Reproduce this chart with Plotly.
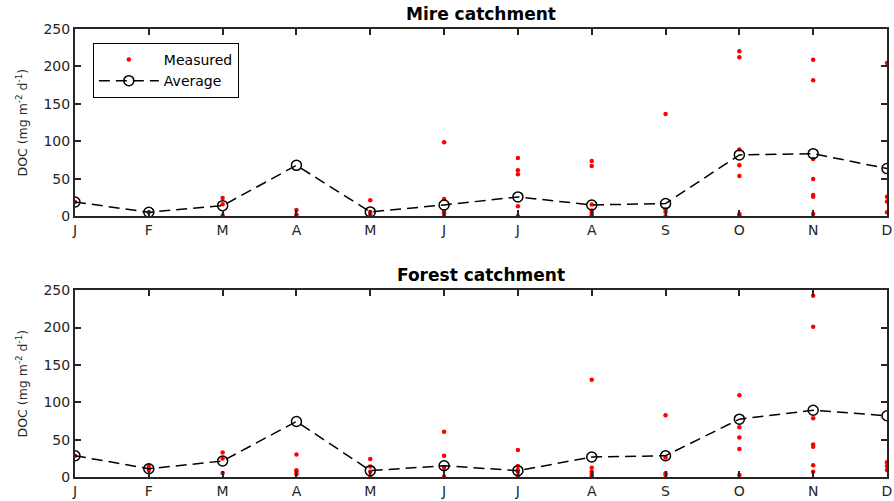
import plotly.graph_objects as go

months = ["J", "F", "M", "A", "M", "J", "J", "A", "S", "O", "N", "D"]
month_pos = list(range(1, 13))

# Mire catchment
mire_avg = [19.1, 5.3, 14.2, 68.0, 5.8, 15.1, 25.8, 15.1, 16.9, 81.9, 83.6, 63.6]
mire_meas = [
    [19],
    [5],
    [24.5, 16, 0.9],
    [8.5, 2.2, 0],
    [21.4, 5.8, 3.1, 0],
    [98.8, 23.1, 6.2, 4, 0],
    [77.8, 61.4, 56, 13.3, 0],
    [73.8, 67.2, 15.6, 7.6, 4.4, 1.8, 0],
    [136.6, 8.9, 5.8, 0],
    [220.2, 212.2, 89, 68, 53.8, 3.1, 0.9],
    [209, 181.5, 76.5, 49.8, 28.5, 26.2, 3.1],
    [204.6, 26.2, 19.6, 5.3],
]

# Forest catchment
forest_avg = [28.5, 11.1, 21.4, 74.3, 8.5, 15.1, 8.5, 26.7, 28.5, 77.4, 89.4, 81.9]
forest_meas = [
    [28.5],
    [14.7, 9.3],
    [32.9, 24.9, 5.3],
    [30.2, 8.9, 6.7, 3.6],
    [24, 14.2, 7.1, 0],
    [60.5, 28.5, 12, 0.5],
    [36, 14.7, 9.3, 7.1, 1.3],
    [130.3, 12.5, 7.1, 4, 1.3],
    [82.7, 26.2, 4.9, 2.7],
    [109.4, 66.7, 52.9, 37.4, 2.7],
    [242.4, 201, 78.7, 43.6, 40.5, 15.6, 7.1],
    [19.6, 14.7, 9.3],
]

titles = ["Mire catchment", "Forest catchment"]
y_ticks = [0, 50, 100, 150, 200, 250]


def flatten(meas):
    xs, ys = [], []
    for m, vals in zip(month_pos, meas):
        for v in vals:
            xs.append(m)
            ys.append(v)
    return xs, ys


fig = go.Figure()
AX = "#262626"

for i, (avg, meas) in enumerate([(mire_avg, mire_meas), (forest_avg, forest_meas)]):
    xa = "x" if i == 0 else "x2"
    ya = "y" if i == 0 else "y2"
    mx, my = flatten(meas)
    fig.add_trace(go.Scatter(
        x=mx, y=my, mode="markers", name="Measured",
        marker=dict(color="#ff0000", size=4.5, line=dict(width=0)),
        xaxis=xa, yaxis=ya, showlegend=(i == 0),
    ))
    fig.add_trace(go.Scatter(
        x=month_pos, y=avg, mode="lines+markers", name="Average",
        line=dict(color="black", width=1.5, dash="11px,6px"),
        marker=dict(symbol="circle-open", size=10, color="black", line=dict(width=1.5)),
        xaxis=xa, yaxis=ya, showlegend=(i == 0),
    ))

axis_common = dict(
    showline=True, linecolor=AX, linewidth=2, mirror="ticks",
    ticks="inside", ticklen=6, tickwidth=1.5, tickcolor=AX,
    showgrid=False, zeroline=False,
    tickfont=dict(family="DejaVu Sans", size=14, color=AX),
)

ytitle = "DOC (mg m<sup>-2</sup> d<sup>-1</sup>)"
ytitle_font = dict(family="DejaVu Sans", size=12.5, color=AX)

fig.update_layout(
    width=894, height=501,
    margin=dict(l=75, r=2, t=29, b=23),
    paper_bgcolor="white", plot_bgcolor="white",
    showlegend=True,
    legend=dict(
        x=0.022, y=0.969, xanchor="left", yanchor="top",
        bordercolor="black", borderwidth=1, bgcolor="white",
        font=dict(family="DejaVu Sans", size=14, color="black"),
        tracegroupgap=0, itemwidth=60,
    ),
    xaxis=dict(domain=[0, 1], range=[1, 12], tickvals=month_pos, ticktext=months,
               anchor="y", ticklabeloverflow="allow", **axis_common),
    yaxis=dict(domain=[0.582, 1.0], range=[0, 250], tickvals=y_ticks, anchor="x",
               title=dict(text=ytitle, font=ytitle_font, standoff=13),
               **axis_common),
    xaxis2=dict(domain=[0, 1], range=[1, 12], tickvals=month_pos, ticktext=months,
                anchor="y2", ticklabeloverflow="allow", **axis_common),
    yaxis2=dict(domain=[0.0, 0.417], range=[0, 250], tickvals=y_ticks, anchor="x2",
                title=dict(text=ytitle, font=ytitle_font, standoff=13),
                **axis_common),
    annotations=[
        dict(text="<b>" + titles[0] + "</b>", x=0.5, y=1.0, xref="paper", yref="paper",
             xanchor="center", yanchor="bottom", yshift=3, showarrow=False,
             font=dict(family="DejaVu Sans", size=17, color="black")),
        dict(text="<b>" + titles[1] + "</b>", x=0.5, y=0.417, xref="paper", yref="paper",
             xanchor="center", yanchor="bottom", yshift=3, showarrow=False,
             font=dict(family="DejaVu Sans", size=17, color="black")),
    ],
)

fig.write_html("out.html")
